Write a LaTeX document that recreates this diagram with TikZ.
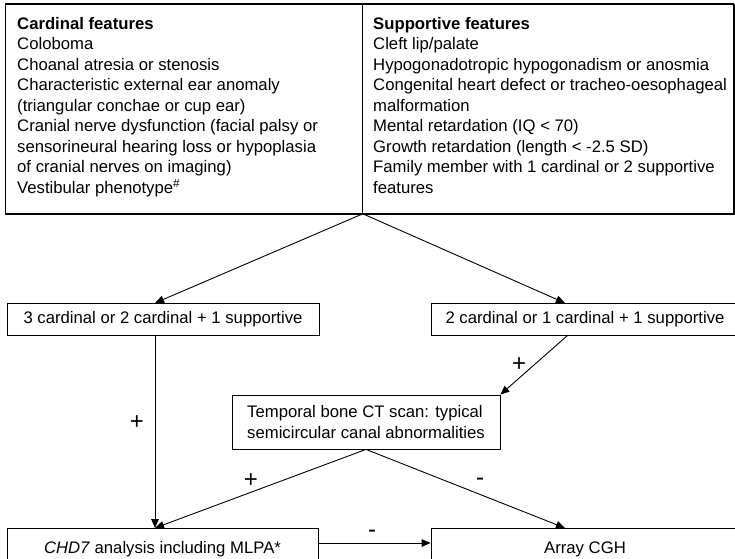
\documentclass[tikz,border=0pt]{standalone}
\usepackage{fontspec}
\setmainfont{Liberation Sans}
\usetikzlibrary{arrows.meta}
\begin{document}
\begin{tikzpicture}[x=1pt,y=-1pt,
  box/.style={draw, line width=0.8pt, inner sep=0pt},
  txt/.style={font=\fontsize{16.7}{20.5}\selectfont},
  col/.style={txt, inner sep=0pt, align=left, anchor=north west},
  conn/.style={line width=0.9pt},
  arr/.style={conn, -{Triangle[length=9pt,width=7.5pt]}},
  sign/.style={font=\fontsize{24}{24}\selectfont, inner sep=0pt}]
\useasboundingbox (0,0) rectangle (735,558);
\clip (0,0) rectangle (735,558);
% top boxes
\node[box, minimum width=357pt, minimum height=209pt, anchor=north west] (card) at (5,4) {};
\node[box, minimum width=371pt, minimum height=209pt, anchor=north west] (supp) at (362,4) {};
\draw[line width=1.8pt] (card.north west) -- (supp.north east);
\draw[line width=2.6pt] (card.south west) -- (supp.south east) -- (supp.north east);
\coordinate (split) at (card.south east);
\node[col] (cardtxt) at (17,17) {\textbf{Cardinal features}\\
Coloboma\\
Choanal atresia or stenosis\\
Characteristic external ear anomaly\\
(triangular conchae or cup ear)\\
Cranial nerve dysfunction (facial palsy or\\
sensorineural hearing loss or hypoplasia\\
of cranial nerves on imaging)\\
Vestibular phenotype\textsuperscript{\#}};
\node[col] (supptxt) at (373,17) {\textbf{Supportive features}\\
Cleft lip/palate\\
Hypogonadotropic hypogonadism or anosmia\\
Congenital heart defect or tracheo-oesophageal\\
malformation\\
Mental retardation (IQ < 70)\\
Growth retardation (length < -2.5 SD)\\
Family member with 1 cardinal or 2 supportive\\
features};
% middle boxes
\node[box, txt, minimum width=312pt, minimum height=32pt] (a) at (163,319) {3 cardinal or 2 cardinal + 1 supportive};
\node[box, txt, minimum width=308pt, minimum height=32pt] (b) at (585,319) {2 cardinal or 1 cardinal + 1 supportive};
\node[box, txt, align=left, minimum width=268pt, minimum height=54pt] (ct) at (366,422) {Temporal bone CT scan: typical\\semicircular canal abnormalities};
% bottom boxes
\node[box, txt, minimum width=311pt, minimum height=42pt] (chd) at (162.5,549) {\textit{CHD7} analysis including MLPA*};
\node[box, txt, minimum width=308pt, minimum height=42pt] (cgh) at (585,549) {Array CGH};
\coordinate (chdin) at (155,528);
\coordinate (cghin) at (565,528);
\coordinate (ain) at (155,303);
\coordinate (bin) at (565,303);
% connectors
\draw[arr] (split) -- (ain);
\draw[arr] (split) -- (bin);
\draw[arr] (568,335) -- (ct.north east);
\draw[arr] (a.south -| chdin) -- (chdin);
\draw[arr] (ct.south) -- (chdin);
\draw[arr] (ct.south) -- (cghin);
\draw[arr] (chd.east |- 0,543) -- (cgh.west |- 0,543);
% signs
\node[sign] (p1) at (519,365) {+};
\node[sign] (p2) at (137,423) {+};
\node[sign] (p3) at (251,481) {+};
\node[sign] (m1) at (480,482) {-};
\node[sign] (m2) at (372,534) {-};
\end{tikzpicture}
\end{document}
